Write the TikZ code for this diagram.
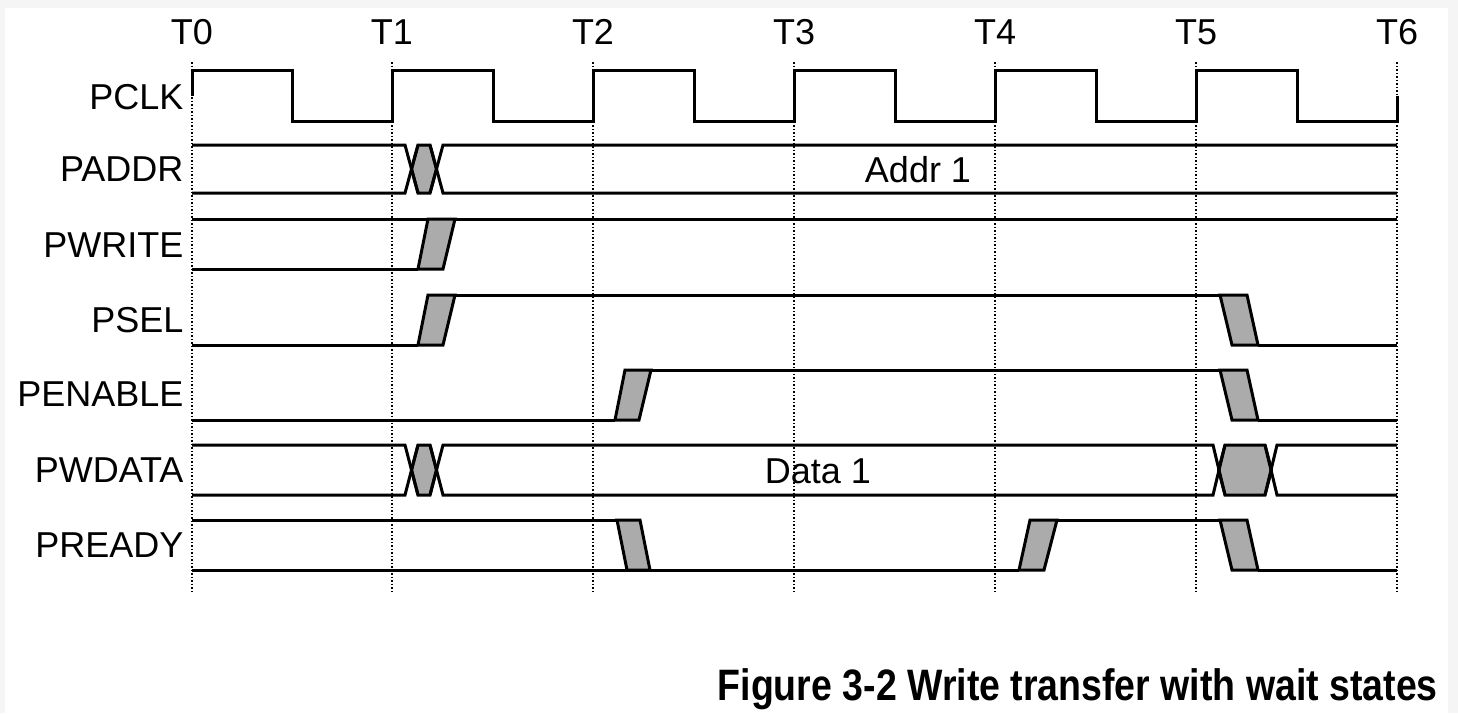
\documentclass[tikz,border=0pt]{standalone}
\usepackage{fontspec}
\setmainfont{Liberation Sans}
\begin{document}
\begin{tikzpicture}[x=1pt,y=-1pt,
  wave/.style={line width=3pt,line join=miter},
  grid/.style={line width=1.5pt,dotted},
  tr/.style={fill=black!33,draw=black,line width=3pt},
  lab/.style={anchor=east,font=\fontsize{36}{36}\selectfont},
  tlab/.style={anchor=base,font=\fontsize{36}{36}\selectfont},
  inlab/.style={font=\fontsize{36}{36}\selectfont}]
\useasboundingbox (0,0) rectangle (1458,713);
\fill[black!4] (0,0) rectangle (1458,713);
\fill[white] (5,8) rectangle (1448,713);
% grid
\foreach \i/\x in {0/192,1/392,2/593,3/794,4/995,5/1196,6/1397}{
  \draw[grid] (\x,62) -- (\x,592);
  \node[tlab] (t\i) at (\x,44) {T\i};
}
% labels
\node[lab] (lclk) at (187,97) {PCLK};
\node[lab] (laddr) at (187,169) {PADDR};
\node[lab] (lwr) at (187,245) {PWRITE};
\node[lab] (lsel) at (187,320) {PSEL};
\node[lab] (len) at (187,394) {PENABLE};
\node[lab] (lwd) at (187,470) {PWDATA};
\node[lab] (lrdy) at (187,545) {PREADY};
% PCLK
\draw[wave] (192,96) -- (192,70) -- (292,70) -- (292,121) -- (392,121) -- (392,70) -- (493,70) -- (493,121)
 -- (593,121) -- (593,70) -- (694,70) -- (694,121) -- (794,121) -- (794,70) -- (895,70) -- (895,121)
 -- (995,121) -- (995,70) -- (1096,70) -- (1096,121) -- (1196,121) -- (1196,70) -- (1297,70) -- (1297,121)
 -- (1397,121) -- (1397,96);
% PADDR
\draw[tr] (411.5,169) -- (418,145) -- (430,145) -- (436.5,169) -- (430,193) -- (418,193) -- cycle;
\draw[wave] (192,145) -- (405,145) -- (418,193);
\draw[wave] (192,193) -- (405,193) -- (418,145);
\draw[wave] (430,145) -- (443,193) -- (1397,193);
\draw[wave] (430,193) -- (443,145) -- (1397,145);
\node[inlab] (addr) at (918,170) {Addr 1};
% PWRITE
\draw[wave] (192,219) -- (1397,219);
\draw[wave] (192,269) -- (418,269);
\draw[tr] (418,269) -- (428,219) -- (455,219) -- (443,269) -- cycle;
% PSEL
\draw[wave] (192,345) -- (418,345);
\draw[tr] (418,345) -- (428,295) -- (455,295) -- (443,345) -- cycle;
\draw[wave] (455,295) -- (1220,295);
\draw[tr] (1220,295) -- (1247,295) -- (1258,345) -- (1232,345) -- cycle;
\draw[wave] (1258,345) -- (1397,345);
% PENABLE
\draw[wave] (192,420) -- (615,420);
\draw[tr] (615,420) -- (625,370) -- (651,370) -- (639,420) -- cycle;
\draw[wave] (651,370) -- (1220,370);
\draw[tr] (1220,370) -- (1247,370) -- (1258,420) -- (1232,420) -- cycle;
\draw[wave] (1258,420) -- (1397,420);
% PWDATA
\draw[tr] (411.5,470) -- (418,445) -- (430,445) -- (436.5,470) -- (430,495) -- (418,495) -- cycle;
\draw[tr] (1218.5,470) -- (1225,445) -- (1265,445) -- (1271.5,470) -- (1265,495) -- (1225,495) -- cycle;
\draw[wave] (192,445) -- (405,445) -- (418,495);
\draw[wave] (192,495) -- (405,495) -- (418,445);
\draw[wave] (430,445) -- (443,495) -- (1213,495) -- (1225,445);
\draw[wave] (430,495) -- (443,445) -- (1213,445) -- (1225,495);
\draw[wave] (1265,445) -- (1277,495) -- (1397,495);
\draw[wave] (1265,495) -- (1277,445) -- (1397,445);
\node[inlab] (data) at (818,471) {Data 1};
% PREADY
\draw[wave] (192,520) -- (617,520);
\draw[tr] (617,520) -- (640,520) -- (650,570) -- (627,570) -- cycle;
\draw[wave] (192,570) -- (1019,570);
\draw[tr] (1019,570) -- (1030,520) -- (1057,520) -- (1044,570) -- cycle;
\draw[wave] (1057,520) -- (1220,520);
\draw[tr] (1220,520) -- (1247,520) -- (1258,570) -- (1232,570) -- cycle;
\draw[wave] (1258,570) -- (1397,570);
% title
\node[anchor=base east,inner sep=0pt] (title) at (1438,700) {\resizebox{720pt}{\height}{\fontsize{44}{44}\selectfont\bfseries Figure 3-2 Write transfer with wait states}};
\end{tikzpicture}
\end{document}
